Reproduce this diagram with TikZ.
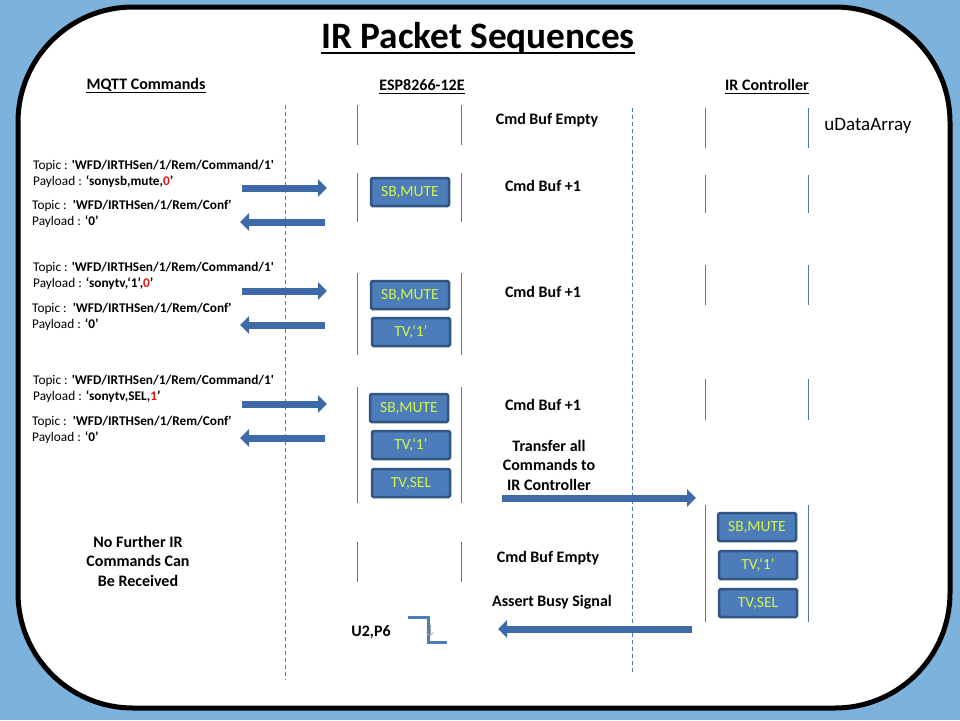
\documentclass[tikz,border=0pt]{standalone}
\usepackage{fontspec}
\setmainfont{Carlito}
\usetikzlibrary{arrows.meta}
\definecolor{bgblue}{RGB}{125,178,220}
\definecolor{boxfill}{RGB}{76,125,186}
\definecolor{boxedge}{RGB}{50,86,130}
\definecolor{boxtext}{RGB}{214,245,72}
\definecolor{arrowblue}{RGB}{62,106,168}
\definecolor{linblue}{RGB}{79,119,170}
\definecolor{pred}{RGB}{230,20,20}
\newcommand{\sq}{\textquotesingle}
\begin{document}
\begin{tikzpicture}[x=1pt,y=-1pt,
  hdr/.style={font=\fontsize{16}{19}\selectfont\bfseries, inner sep=0pt},
  lbl/.style={font=\fontsize{16}{19.5}\selectfont\bfseries, align=center, inner sep=0pt},
  cmd/.style={font=\fontsize{13.3}{16}\selectfont, anchor=west, inner sep=0pt},
  pkt/.style={draw=boxedge, line width=2.5pt, fill=boxfill, rounded corners=1.5pt, minimum width=78pt, minimum height=28pt, inner sep=0pt, text=boxtext, font=\fontsize{15.5}{17}\selectfont},
  life/.style={draw=linblue, line width=0.9pt},
  sep/.style={draw=linblue, line width=0.8pt, dash pattern=on 4pt off 3pt},
  blk/.style={draw=arrowblue, line width=7pt, -{Triangle[width=17pt,length=9pt]}},
  uline/.style={line width=1.3pt}
]
\useasboundingbox (0,0) rectangle (960,720);
\fill[bgblue] (0,0) rectangle (960,720);
\draw[line width=5pt, fill=white, rounded corners=115pt] (18,7) rectangle (950,708);

% title and headers
\node[font=\fontsize{37.3}{42}\selectfont\bfseries, inner sep=0pt] (title) at (478,38) {IR Packet Sequences};
\draw[line width=2.5pt] ([yshift=-5pt]title.base west) -- ([yshift=-5pt]title.base east);
\node[hdr] (hmqtt) at (146,85) {MQTT Commands};
\draw[uline] ([yshift=-3pt]hmqtt.base west) -- ([yshift=-3pt]hmqtt.base east);
\node[hdr] (hesp) at (422,85) {ESP8266-12E};
\draw[uline] ([yshift=-3pt]hesp.base west) -- ([yshift=-3pt]hesp.base east);
\node[hdr] (hir) at (767,85) {IR Controller};
\draw[uline] ([yshift=-3pt]hir.base west) -- ([yshift=-3pt]hir.base east);

% separators
\draw[sep] (285,105) -- (285,680);
\draw[sep] (632,108) -- (632,673);

% ESP lifelines
\foreach \a/\b in {105/145,173/222,273/355,387/503,542/582}{
  \draw[life] (357,\a) -- (357,\b);
  \draw[life] (461,\a) -- (461,\b);
}
% IR lifelines
\foreach \a/\b in {108/148,175/213,265/305,379/420,505/622}{
  \draw[life] (705,\a) -- (705,\b);
  \draw[life] (808,\a) -- (808,\b);
}

\node[font=\fontsize{19}{22}\selectfont, inner sep=0pt] (udata) at (868,126) {uDataArray};

% middle labels
\node[lbl] (empty1) at (547,120) {Cmd Buf Empty};
\node[lbl] (plus1) at (543,186) {Cmd Buf +1};
\node[lbl] (plus2) at (543,292) {Cmd Buf +1};
\node[lbl] (plus3) at (543,405) {Cmd Buf +1};
\node[lbl] (transfer) at (549,465) {Transfer all\\Commands to\\IR Controller};
\node[lbl] (empty2) at (548,558) {Cmd Buf Empty};
\node[lbl] (busy) at (552,602) {Assert Busy Signal};
\node[lbl] (nofurther) at (138,561) {No Further IR\\Commands Can\\Be Received};
\node[lbl] (u2p6) at (371,632) {U2,P6};

% busy signal edge
\coordinate (sigA) at (408,617);
\coordinate (sigB) at (428,617);
\coordinate (sigC) at (428,642);
\coordinate (sigD) at (447,642);
\draw[boxfill, line width=3pt] (sigA) -- (sigB) -- (sigC) -- (sigD);
\coordinate (tickA) at (430,625);
\coordinate (tickB) at (430,636);
\draw[gray!70, line width=0.7pt, -{Straight Barb[length=3pt,width=7pt]}] (tickA) -- (tickB);

% MQTT texts
\node[cmd] (t1) at (33,166) {Topic : \textbf{\sq WFD/IRTHSen/1/Rem/Command/1\sq}};
\node[cmd] (p1) at (33,182) {Payload : \textbf{‘sonysb,mute,\textcolor{pred}{0}’}};
\node[cmd] (c1) at (32,206) {Topic :\ \ \textbf{\sq WFD/IRTHSen/1/Rem/Conf\sq}};
\node[cmd] (q1) at (32,222) {Payload : \textbf{‘0’}};
\node[cmd] (t2) at (33,268) {Topic : \textbf{\sq WFD/IRTHSen/1/Rem/Command/1\sq}};
\node[cmd] (p2) at (33,284) {Payload : \textbf{‘sonytv,‘1’,\textcolor{pred}{0}’}};
\node[cmd] (c2) at (32,309) {Topic :\ \ \textbf{\sq WFD/IRTHSen/1/Rem/Conf\sq}};
\node[cmd] (q2) at (32,325) {Payload : \textbf{‘0’}};
\node[cmd] (t3) at (33,381) {Topic : \textbf{\sq WFD/IRTHSen/1/Rem/Command/1\sq}};
\node[cmd] (p3) at (33,397) {Payload : \textbf{‘sonytv,SEL,\textcolor{pred}{1}’}};
\node[cmd] (c3) at (32,422) {Topic :\ \ \textbf{\sq WFD/IRTHSen/1/Rem/Conf\sq}};
\node[cmd] (q3) at (32,438) {Payload : \textbf{‘0’}};

% ESP packets
\node[pkt] (e1a) at (410,192) {SB,MUTE};
\node[pkt] (e2a) at (410,295) {SB,MUTE};
\node[pkt] (e2b) at (411,332) {TV,‘1’};
\node[pkt] (e3a) at (409,408) {SB,MUTE};
\node[pkt] (e3b) at (411,445) {TV,‘1’};
\node[pkt] (e3c) at (411,483) {TV,SEL};
% IR packets
\node[pkt] (i1) at (757,527) {SB,MUTE};
\node[pkt] (i2) at (758,565) {TV,‘1’};
\node[pkt] (i3) at (758,603) {TV,SEL};

% arrows
\coordinate (r1s) at (242,188); \coordinate (r1e) at (327,188);
\coordinate (l1s) at (325,222); \coordinate (l1e) at (240,222);
\coordinate (r2s) at (242,291); \coordinate (r2e) at (327,291);
\coordinate (l2s) at (325,325); \coordinate (l2e) at (240,325);
\coordinate (r3s) at (242,404); \coordinate (r3e) at (327,404);
\coordinate (l3s) at (325,438); \coordinate (l3e) at (240,438);
\coordinate (trs) at (502,498); \coordinate (tre) at (696,498);
\coordinate (bss) at (692,629); \coordinate (bse) at (498,629);
\foreach \s/\e in {r1s/r1e,l1s/l1e,r2s/r2e,l2s/l2e,r3s/r3e,l3s/l3e,trs/tre,bss/bse}{
  \draw[blk] (\s) -- (\e);
}
\end{tikzpicture}
\end{document}
